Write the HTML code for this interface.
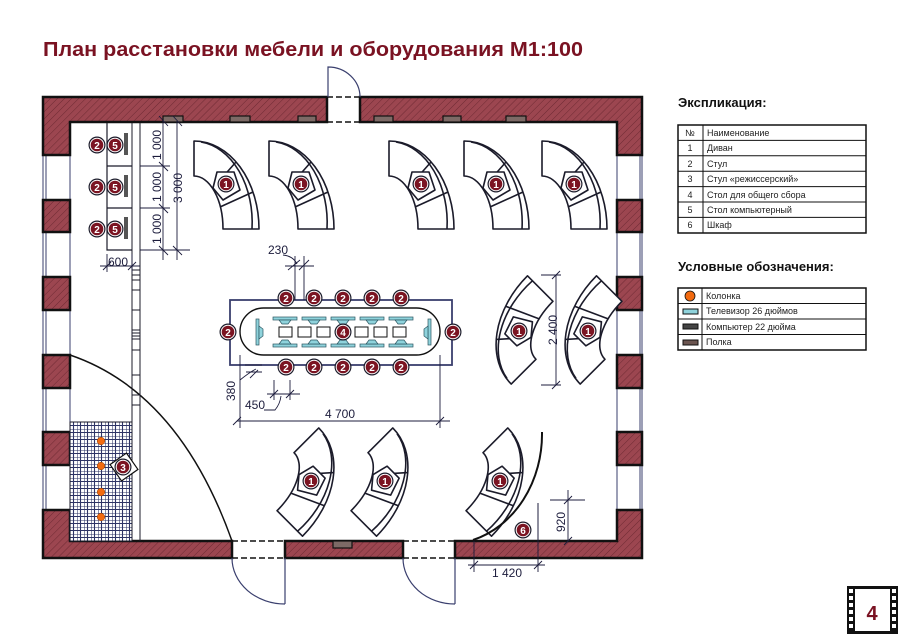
<!DOCTYPE html>
<html><head><meta charset="utf-8"><style>
html,body{margin:0;padding:0;background:#fff;}
svg{display:block;}
text{font-family:"Liberation Sans",sans-serif;}
.dim{fill:#1c1c3c;font-size:12px;}
.tb{font-family:"Liberation Sans Narrow","Liberation Sans",sans-serif;font-size:9px;fill:#222;}
</style></head><body>
<svg width="900" height="636" viewBox="0 0 900 636" xmlns="http://www.w3.org/2000/svg">
<defs>
<pattern id="h" width="5" height="5" patternUnits="userSpaceOnUse" patternTransform="rotate(45)">
<rect width="5" height="5" fill="#9c4650"/><line x1="0" y1="0" x2="0" y2="5" stroke="#6e2a33" stroke-width="1"/>
</pattern>
<pattern id="g" width="7" height="7" patternUnits="userSpaceOnUse" x="70" y="422">
<rect width="7" height="7" fill="#fff"/><path d="M0 0H7M0 0V7M0 3.5H7M3.5 0V7" stroke="#2e3466" stroke-width="1.1" fill="none"/>
</pattern>
<g id="m"><circle r="8.5" fill="#1b1b2a"/><circle r="7.3" fill="#fff"/><circle r="6.3" fill="#7b1422"/></g>
<g id="sofa" fill="#fff" stroke="#1b1b2a" stroke-width="1.6" stroke-linejoin="round">
<path d="M-32,-43 A65 88 0 0 1 33,45 L-3,45 A29 53 0 0 0 -32,-8 Z"/>
<path d="M-25,-42 A58 81 0 0 1 26,45" fill="none"/>
<path d="M10,-22 L-13,4 M27,8 L-6,23" fill="none"/>
<path d="M-13,4 L-9,-12 L8,-12 L14,6 L-3,16 Z"/>
</g>
</defs>

<text x="43" y="56" font-size="20" font-weight="bold" fill="#7a1222" textLength="540" lengthAdjust="spacingAndGlyphs">План расстановки мебели и оборудования М1:100</text>

<rect x="70" y="122" width="547" height="419" fill="#fff"/>
<g stroke="#3a3f6e" stroke-width="1" fill="none">
<path d="M43 97V558M46 97V558M70 122V541M617 122V541M640 97V558M642 97V558"/>
</g>
<g fill="url(#h)" stroke="#111" stroke-width="2.5">
<path d="M43 97H327V122H70V155H43Z"/>
<path d="M360 97H642V155H617V122H360Z"/>
<rect x="43" y="200" width="27" height="32"/><rect x="43" y="277" width="27" height="33"/>
<rect x="43" y="355" width="27" height="33"/><rect x="43" y="432" width="27" height="33"/>
<rect x="617" y="200" width="25" height="32"/><rect x="617" y="277" width="25" height="33"/>
<rect x="617" y="355" width="25" height="33"/><rect x="617" y="432" width="25" height="33"/>
<path d="M43 510H70V541H232V558H43Z"/>
<rect x="285" y="541" width="118" height="17"/>
<path d="M455 541H617V510H642V558H455Z"/>
</g>
<g fill="#7d6a66" stroke="#111" stroke-width="1.2">
<rect x="163" y="116" width="20" height="6"/><rect x="230" y="116" width="20" height="6"/>
<rect x="298" y="116" width="18" height="6"/><rect x="374" y="116" width="19" height="6"/>
<rect x="443" y="116" width="18" height="6"/><rect x="506" y="116" width="20" height="6"/>
<rect x="333" y="541" width="19" height="7"/>
</g>
<g fill="none" stroke="#111" stroke-width="1.5">
<path d="M327 122H360M327 97H360" stroke-dasharray="6 3"/>
<path d="M327 97V122M360 97V122"/>
<path d="M232 541H285M232 558H285M403 541H455M403 558H455" stroke-dasharray="6 3"/>
</g>
<g fill="none" stroke="#3a3f6e" stroke-width="1.2">
<path d="M328 97V67A32 30 0 0 1 360 97"/>
<path d="M285 558V604M232 558A53 46 0 0 0 285 604"/>
<path d="M455 558V604M403 558A52 46 0 0 0 455 604"/>
</g>
<path d="M70 355Q179 392 232 541" fill="none" stroke="#111" stroke-width="1.5"/>

<g stroke="#1b1b2a" stroke-width="1" fill="none">
<path d="M132 123V541M140 123V541"/>
<path d="M132 270H140M132 275H140M132 280H140M132 290H140M132 310H140M132 330H140M132 333H140M132 336H140M132 339H140M132 350H140M132 375H140M132 395H140M132 405H140"/>
</g>
<g stroke="#1b1b2a" stroke-width="1.2" fill="none">
<path d="M107 123V250H132M107 166H132M107 208H132"/>
</g>
<g fill="#555"><rect x="124" y="133" width="4" height="22"/><rect x="124" y="175" width="4" height="22"/><rect x="124" y="217" width="4" height="22"/></g>
<g stroke="#1c1c3c" stroke-width="0.9" fill="none">
<path d="M163 120V260M177 120V260M140 166H170M140 208H170M140 250H190M159 116L168 126M173 116L182 126M159 162L168 171M159 204L168 213M159 246L168 255M173 246L182 255"/>
<path d="M100 266H140M107 254V272M132 254V272M103 270L111 262M128 270L136 262"/>
</g>
<text class="dim" transform="translate(161,145) rotate(-90)" text-anchor="middle" font-size="11">1 000</text>
<text class="dim" transform="translate(161,187) rotate(-90)" text-anchor="middle" font-size="11">1 000</text>
<text class="dim" transform="translate(161,229) rotate(-90)" text-anchor="middle" font-size="11">1 000</text>
<text class="dim" transform="translate(182,188) rotate(-90)" text-anchor="middle" font-size="11">3 000</text>
<text class="dim" x="118" y="266" text-anchor="middle" font-size="11">600</text>

<g font-size="10" font-weight="bold" fill="#fff" text-anchor="middle">
<use href="#m" x="97" y="145"/><use href="#m" x="115" y="145"/>
<use href="#m" x="97" y="187"/><use href="#m" x="115" y="187"/>
<use href="#m" x="97" y="229"/><use href="#m" x="115" y="229"/>
<text x="97" y="149">2</text><text x="115" y="149">5</text>
<text x="97" y="191">2</text><text x="115" y="191">5</text>
<text x="97" y="233">2</text><text x="115" y="233">5</text>
</g>

<rect x="70" y="422" width="62" height="119" fill="url(#g)" stroke="#1b1b2a" stroke-width="1"/>
<g fill="#f26a10" stroke="#8a3a00" stroke-width="0.5">
<circle cx="101" cy="441" r="3.8"/><circle cx="101" cy="466" r="3.8"/><circle cx="101" cy="492" r="3.8"/><circle cx="101" cy="517" r="3.8"/>
</g>
<rect x="114" y="457" width="20" height="20" transform="rotate(-35 124 467)" fill="#fff" stroke="#111" stroke-width="1.2"/>
<use href="#m" x="123" y="467"/><text x="123" y="471" font-size="10" font-weight="bold" fill="#fff" text-anchor="middle">3</text>

<use href="#sofa" transform="translate(226,184)"/>
<use href="#sofa" transform="translate(301,184)"/>
<use href="#sofa" transform="translate(421,184)"/>
<use href="#sofa" transform="translate(496,184)"/>
<use href="#sofa" transform="translate(574,184)"/>
<use href="#sofa" transform="translate(519,331) rotate(-135)"/>
<use href="#sofa" transform="translate(588,331) rotate(-135)"/>
<use href="#sofa" transform="translate(311,481) rotate(45)"/>
<use href="#sofa" transform="translate(385,481) rotate(45)"/>
<use href="#sofa" transform="translate(500,481) rotate(45)"/>
<g font-size="10" font-weight="bold" fill="#fff" text-anchor="middle">
<use href="#m" x="226" y="184"/><text x="226" y="188">1</text>
<use href="#m" x="301" y="184"/><text x="301" y="188">1</text>
<use href="#m" x="421" y="184"/><text x="421" y="188">1</text>
<use href="#m" x="496" y="184"/><text x="496" y="188">1</text>
<use href="#m" x="574" y="184"/><text x="574" y="188">1</text>
<use href="#m" x="519" y="331"/><text x="519" y="335">1</text>
<use href="#m" x="588" y="331"/><text x="588" y="335">1</text>
<use href="#m" x="311" y="481"/><text x="311" y="485">1</text>
<use href="#m" x="385" y="481"/><text x="385" y="485">1</text>
<use href="#m" x="500" y="481"/><text x="500" y="485">1</text>
</g>

<path d="M542 432A95 110 0 0 1 473 540" fill="none" stroke="#111" stroke-width="2"/>
<path d="M538 503V541" stroke="#1c1c3c" stroke-width="1"/>
<use href="#m" x="523" y="530"/><text x="523" y="534" font-size="10" font-weight="bold" fill="#fff" text-anchor="middle">6</text>

<rect x="230" y="300" width="222" height="65" fill="#fff" stroke="#3a3f6e" stroke-width="1.8"/>
<rect x="240" y="308" width="200" height="47" rx="23.5" fill="#fff" stroke="#111" stroke-width="1.4"/>
<g fill="#8fd3dc" stroke="#2a5560" stroke-width="0.7">
<rect x="273" y="317" width="24" height="3"/><rect x="302" y="317" width="24" height="3"/><rect x="331" y="317" width="24" height="3"/><rect x="360" y="317" width="24" height="3"/><rect x="389" y="317" width="24" height="3"/>
<path d="M279 320H291L288 324H282Z M308 320H320L317 324H311Z M337 320H349L346 324H340Z M366 320H378L375 324H369Z M395 320H407L404 324H398Z"/>
<rect x="273" y="344" width="24" height="3"/><rect x="302" y="344" width="24" height="3"/><rect x="331" y="344" width="24" height="3"/><rect x="360" y="344" width="24" height="3"/><rect x="389" y="344" width="24" height="3"/>
<path d="M279 344H291L288 340H282Z M308 344H320L317 340H311Z M337 344H349L346 340H340Z M366 344H378L375 340H369Z M395 344H407L404 340H398Z"/>
<rect x="256" y="319" width="3" height="26"/><path d="M259 326L263 329V336L259 339Z"/>
<rect x="428" y="319" width="3" height="26"/><path d="M428 326L424 329V336L428 339Z"/>
</g>
<g fill="#fff" stroke="#111" stroke-width="1">
<rect x="279" y="327" width="13" height="10"/><rect x="298" y="327" width="13" height="10"/><rect x="317" y="327" width="13" height="10"/><rect x="355" y="327" width="13" height="10"/><rect x="374" y="327" width="13" height="10"/><rect x="393" y="327" width="13" height="10"/>
</g>
<g font-size="10" font-weight="bold" fill="#fff" text-anchor="middle">
<use href="#m" x="343" y="332"/><text x="343" y="336">4</text>
<use href="#m" x="228" y="332"/><text x="228" y="336">2</text>
<use href="#m" x="453" y="332"/><text x="453" y="336">2</text>
<use href="#m" x="286" y="298"/><text x="286" y="302">2</text>
<use href="#m" x="314" y="298"/><text x="314" y="302">2</text>
<use href="#m" x="343" y="298"/><text x="343" y="302">2</text>
<use href="#m" x="372" y="298"/><text x="372" y="302">2</text>
<use href="#m" x="401" y="298"/><text x="401" y="302">2</text>
<use href="#m" x="286" y="367"/><text x="286" y="371">2</text>
<use href="#m" x="314" y="367"/><text x="314" y="371">2</text>
<use href="#m" x="343" y="367"/><text x="343" y="371">2</text>
<use href="#m" x="372" y="367"/><text x="372" y="371">2</text>
<use href="#m" x="401" y="367"/><text x="401" y="371">2</text>
</g>
<g stroke="#1c1c3c" stroke-width="0.9" fill="none">
<path d="M285 266H314M295 256V300M304 256V300M288 270L300 260M299 270L309 260M283 255Q293 256 297 264"/>
<path d="M245 365H262M246 372H262M250 378L258 370M240 380Q250 372 256 369"/>
<path d="M267 394H300M274 380V400M290 380V400M270 398L278 390M286 398L294 390M264 410H275Q280 404 281 396"/>
<path d="M237 421H450M240 355V428M440 355V428M233 425L241 417M436 425L444 417"/>
<path d="M541 275H561M541 385H561M556 275V385M552 279L560 271M552 389L560 381"/>
<path d="M550 500H585M568 490V541M564 504L572 496M564 545L572 537"/>
<path d="M468 565H545M474 541V572M538 541V572M470 569L478 561M534 569L542 561"/>
</g>
<text class="dim" x="278" y="254" text-anchor="middle">230</text>
<text class="dim" transform="translate(235,391) rotate(-90)" text-anchor="middle">380</text>
<text class="dim" x="255" y="409" text-anchor="middle">450</text>
<text class="dim" x="340" y="418" text-anchor="middle">4 700</text>
<text class="dim" transform="translate(557,330) rotate(-90)" text-anchor="middle">2 400</text>
<text class="dim" transform="translate(565,522) rotate(-90)" text-anchor="middle">920</text>
<text class="dim" x="507" y="577" text-anchor="middle">1 420</text>

<text x="678" y="107" font-size="13" font-weight="bold" fill="#111">Экспликация:</text>
<g fill="none" stroke="#111" stroke-width="1">
<rect x="678" y="125" width="188" height="108" stroke-width="1.5"/>
<path d="M703 125V233M678 140.4H866M678 155.8H866M678 171.2H866M678 186.6H866M678 202H866M678 217.4H866"/>
</g>
<g class="tb">
<text x="690" y="136" text-anchor="middle">№</text><text x="707" y="136">Наименование</text>
<text x="690" y="151" text-anchor="middle">1</text><text x="707" y="151">Диван</text>
<text x="690" y="167" text-anchor="middle">2</text><text x="707" y="167">Стул</text>
<text x="690" y="182" text-anchor="middle">3</text><text x="707" y="182">Стул «режиссерский»</text>
<text x="690" y="198" text-anchor="middle">4</text><text x="707" y="198">Стол для общего сбора</text>
<text x="690" y="213" text-anchor="middle">5</text><text x="707" y="213">Стол компьютерный</text>
<text x="690" y="228" text-anchor="middle">6</text><text x="707" y="228">Шкаф</text>
</g>
<text x="678" y="271" font-size="13" font-weight="bold" fill="#111">Условные обозначения:</text>
<g fill="none" stroke="#111" stroke-width="1">
<rect x="678" y="288" width="188" height="62" stroke-width="1.5"/>
<path d="M702 288V350M678 303.5H866M678 319H866M678 334.5H866"/>
</g>
<circle cx="690" cy="296" r="5" fill="#f26a10" stroke="#111" stroke-width="0.8"/>
<rect x="683" y="309" width="15" height="5" fill="#8fd3dc" stroke="#111" stroke-width="1"/>
<rect x="683" y="324" width="15" height="5" fill="#444" stroke="#111" stroke-width="1"/>
<rect x="683" y="340" width="15" height="5" fill="#6b5550" stroke="#111" stroke-width="1"/>
<g class="tb">
<text x="706" y="299">Колонка</text><text x="706" y="314">Телевизор 26 дюймов</text>
<text x="706" y="330">Компьютер 22 дюйма</text><text x="706" y="345">Полка</text>
</g>

<rect x="847" y="586" width="51" height="48" fill="#111"/>
<rect x="855" y="589" width="35" height="42" fill="#fff"/>
<g fill="#fff">
<rect x="849" y="589" width="4" height="4"/><rect x="849" y="596" width="4" height="4"/><rect x="849" y="603" width="4" height="4"/><rect x="849" y="610" width="4" height="4"/><rect x="849" y="617" width="4" height="4"/><rect x="849" y="624" width="4" height="4"/>
<rect x="892" y="589" width="4" height="4"/><rect x="892" y="596" width="4" height="4"/><rect x="892" y="603" width="4" height="4"/><rect x="892" y="610" width="4" height="4"/><rect x="892" y="617" width="4" height="4"/><rect x="892" y="624" width="4" height="4"/>
</g>
<text x="872" y="620" font-size="20" font-weight="bold" fill="#7a1222" text-anchor="middle">4</text>
</svg>
</body></html>
